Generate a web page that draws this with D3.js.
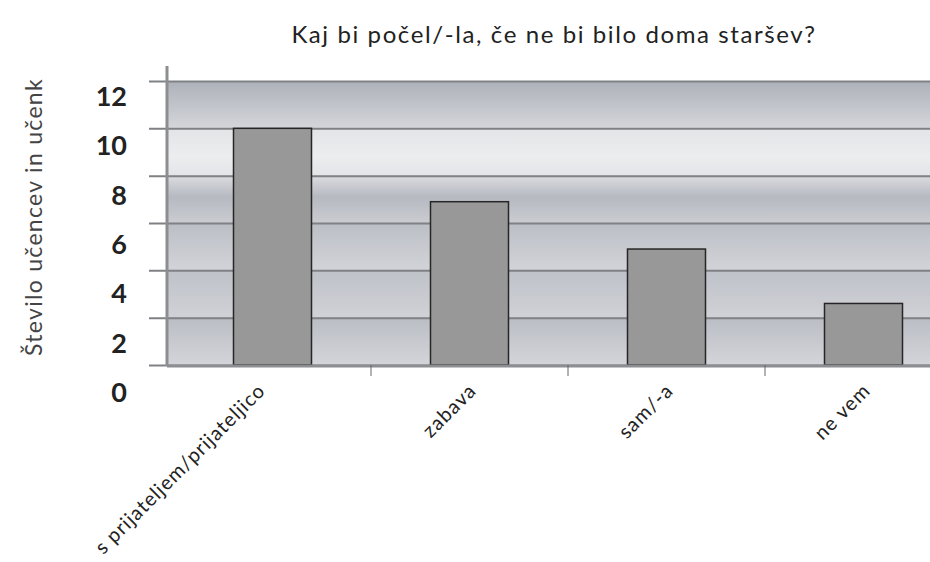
<!DOCTYPE html>
<html>
<head>
<meta charset="utf-8">
<script src="https://cdn.jsdelivr.net/npm/d3@7"></script>
<style>
  body { margin: 0; background: #fff; }
  svg { display: block; font-family: Lato, "Open Sans", sans-serif; }
</style>
</head>
<body>
<div id="chart"></div>
<script>
const categories = ['s prijateljem/prijateljico', 'zabava', 'sam/-a', 'ne vem'];
const values = [10, 6.9, 4.9, 2.6];
const yTicks = [0, 2, 4, 6, 8, 10, 12];

const title = 'Kaj bi počel/-la, če ne bi bilo doma staršev?';
const yTitle = 'Število učencev in učenk';

const width = 930,
  height = 562;

const svg = d3
  .select('#chart')
  .append('svg')
  .attr('width', width)
  .attr('height', height);

const plotLeft = 167,
  plotRight = width,
  plotBottom = 365;

const x = d3
  .scaleBand()
  .domain(categories)
  .range([174, 962])
  .padding(0);

const y = d3.scaleLinear().domain([0, 12]).range([plotBottom, 81]);
// tick labels sit a bit lower than their gridlines in the original
const yLabel = d3.scaleLinear().domain([0, 12]).range([393, 97]);

// Metallic background, stops placed at data values
const stops = [
  [12, '#adb1b9'],
  [10.05, '#d3d5d9'],
  [10, '#e3e4e7'],
  [8.8, '#ecedef'],
  [8.05, '#e4e5e8'],
  [7.95, '#d9dade'],
  [7.1, '#b6b9c1'],
  [6.05, '#c9cbd0'],
  [5.95, '#bcbfc6'],
  [4.05, '#d1d3d8'],
  [3.95, '#bfc2c9'],
  [2.05, '#cfd1d6'],
  [1.95, '#bbbec5'],
  [0, '#d3d5da'],
];
const defs = svg.append('defs');
const grad = defs
  .append('linearGradient')
  .attr('id', 'bg')
  .attr('gradientUnits', 'userSpaceOnUse')
  .attr('x1', 0)
  .attr('x2', 0)
  .attr('y1', y(12))
  .attr('y2', y(0));
grad
  .selectAll('stop')
  .data(stops)
  .enter()
  .append('stop')
  .attr('offset', (d) => (y(d[0]) - y(12)) / (y(0) - y(12)))
  .attr('stop-color', (d) => d[1]);

svg
  .append('rect')
  .attr('x', plotLeft)
  .attr('y', y(12))
  .attr('width', plotRight - plotLeft)
  .attr('height', y(0) - y(12))
  .attr('fill', 'url(#bg)');

// Gridlines (stick out left of the axis)
const grid = svg
  .append('g')
  .attr('transform', 'translate(149,0)')
  .call(
    d3
      .axisLeft(y)
      .tickValues(yTicks)
      .tickSize(-(plotRight - 149))
      .tickFormat('')
  );
grid.select('.domain').remove();
grid.selectAll('line').attr('stroke', '#7f8185').attr('stroke-width', 2);

// Bars
const barW = 78;
svg
  .selectAll('.bar')
  .data(categories)
  .enter()
  .append('rect')
  .attr('class', 'bar')
  .attr('x', (d) => x(d) + x.bandwidth() / 2 - barW / 2)
  .attr('y', (d, i) => y(values[i]))
  .attr('width', barW)
  .attr('height', (d, i) => y(0) - y(values[i]))
  .attr('fill', '#989898')
  .attr('stroke', '#262626')
  .attr('stroke-width', 1.5);

// Axis lines
svg
  .append('line')
  .attr('x1', plotLeft)
  .attr('x2', plotLeft)
  .attr('y1', 66)
  .attr('y2', plotBottom + 1)
  .attr('stroke', '#8c8e92')
  .attr('stroke-width', 3);
svg
  .append('line')
  .attr('x1', plotLeft)
  .attr('x2', plotRight)
  .attr('y1', plotBottom + 1)
  .attr('y2', plotBottom + 1)
  .attr('stroke', '#8c8e92')
  .attr('stroke-width', 3);

// Category separators
svg
  .selectAll('.sep')
  .data(categories.slice(1))
  .enter()
  .append('line')
  .attr('class', 'sep')
  .attr('x1', (d) => x(d))
  .attr('x2', (d) => x(d))
  .attr('y1', plotBottom)
  .attr('y2', plotBottom + 11)
  .attr('stroke', '#666')
  .attr('stroke-width', 1);

// Y tick labels
const yAxis = svg
  .append('g')
  .attr('transform', 'translate(127,0)')
  .call(d3.axisLeft(yLabel).tickValues(yTicks).tickSize(0).tickPadding(0));
yAxis.select('.domain').remove();
yAxis
  .selectAll('text')
  .attr('fill', '#222')
  .style('font-size', '27px')
  .style('font-weight', 'bold')
  .style('font-family', 'Lato, sans-serif');

// X labels
svg
  .selectAll('.xlab')
  .data(categories)
  .enter()
  .append('text')
  .attr('class', 'xlab')
  .attr(
    'transform',
    (d, i) =>
      `translate(${x(d) + x.bandwidth() / 2 + (i === 0 ? -6 : 8)},${plotBottom + 27}) rotate(-45)`
  )
  .attr('text-anchor', 'end')
  .attr('fill', '#222')
  .style('font-size', '20px')
  .style('letter-spacing', '1px')
  .text((d) => d);

// Title
svg
  .append('text')
  .attr('x', 554)
  .attr('y', 43)
  .attr('text-anchor', 'middle')
  .attr('fill', '#222')
  .style('font-size', '24px')
  .style('letter-spacing', '1.6px')
  .text(title);

// Y axis title
svg
  .append('text')
  .attr('transform', 'translate(42,217) rotate(-90)')
  .attr('text-anchor', 'middle')
  .attr('fill', '#444')
  .style('font-size', '23px')
  .style('letter-spacing', '1.3px')
  .text(yTitle);
</script>
</body>
</html>
